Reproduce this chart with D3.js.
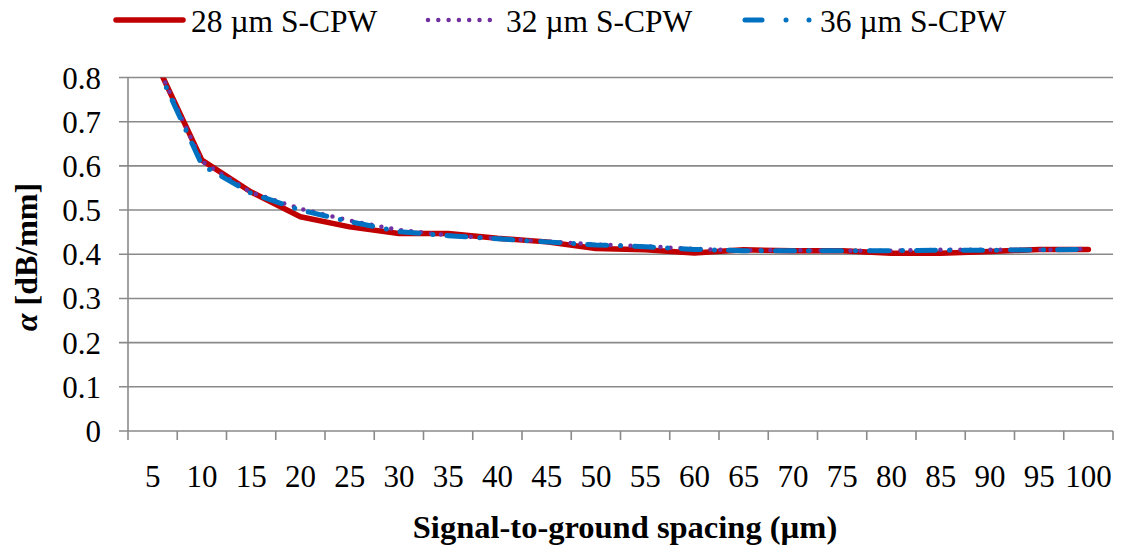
<!DOCTYPE html>
<html>
<head>
<meta charset="utf-8">
<script src="https://cdn.jsdelivr.net/npm/d3@7"></script>
<style>
  html, body { margin: 0; padding: 0; background: #fff; }
  svg { display: block; }
</style>
</head>
<body>
<svg id="chart" width="1121" height="553"></svg>
<script>
// Attenuation vs signal-to-ground spacing for three S-CPW widths
const spacings = ["5","10","15","20","25","30","35","40","45","50","55","60","65","70","75","80","85","90","95","100"];
const cpw28 = [0.850,0.613,0.541,0.485,0.462,0.447,0.447,0.436,0.428,0.413,0.410,0.403,0.410,0.408,0.408,0.402,0.402,0.406,0.411,0.411];
const cpw32 = [0.850,0.610,0.540,0.503,0.476,0.455,0.443,0.436,0.429,0.422,0.418,0.412,0.409,0.409,0.408,0.408,0.410,0.410,0.410,0.412];
const cpw36 = [0.845,0.602,0.538,0.500,0.474,0.451,0.442,0.435,0.428,0.421,0.417,0.411,0.408,0.408,0.408,0.408,0.409,0.409,0.410,0.411];
const yTicks = [0,0.1,0.2,0.3,0.4,0.5,0.6,0.7,0.8];
const seriesNames = ["28 µm S-CPW","32 µm S-CPW","36 µm S-CPW"];

const FONT = "Liberation Serif";
const svg = d3.select("#chart");
const plotL = 128, plotR = 1113, plotT = 77.5, plotB = 431;
const gridColor = "#8a8a8a";

const x = d3.scaleBand().domain(spacings).range([plotL, plotR]).paddingInner(0).paddingOuter(0);
const y = d3.scaleLinear().domain([0, 0.8]).range([plotB, plotT]);
const cx = d => x(d) + x.bandwidth() / 2;

// clip region for the plot area
svg.append("defs").append("clipPath").attr("id", "plotClip")
  .append("rect").attr("x", plotL).attr("y", plotT).attr("width", plotR - plotL).attr("height", plotB - plotT);

// horizontal gridlines with left tick stubs
svg.append("g").selectAll("line").data(yTicks).join("line")
  .attr("x1", plotL - 9).attr("x2", plotR)
  .attr("y1", d => y(d)).attr("y2", d => y(d))
  .attr("stroke", gridColor).attr("stroke-width", 1.6);

// y axis line
svg.append("line").attr("x1", plotL).attr("x2", plotL).attr("y1", plotT).attr("y2", plotB)
  .attr("stroke", gridColor).attr("stroke-width", 1.6);

// x category tick marks at band boundaries
const boundaries = spacings.map(d => x(d)).concat([plotR]);
svg.append("g").selectAll("line").data(boundaries).join("line")
  .attr("x1", d => d).attr("x2", d => d).attr("y1", plotB).attr("y2", plotB + 9)
  .attr("stroke", gridColor).attr("stroke-width", 1.6);

// y tick labels
svg.append("g").selectAll("text").data(yTicks).join("text")
  .attr("font-family", FONT)
  .attr("x", 101).attr("y", d => y(d) + 11)
  .attr("text-anchor", "end").attr("font-size", 31).attr("fill", "#000")
  .text(d => d === 0 ? "0" : d.toFixed(1));

// x tick labels
svg.append("g").selectAll("text").data(spacings).join("text")
  .attr("font-family", FONT)
  .attr("x", d => cx(d)).attr("y", 487)
  .attr("text-anchor", "middle").attr("font-size", 31).attr("fill", "#000")
  .text(d => d);

// axis titles
svg.append("text").attr("font-family", FONT).attr("x", 625).attr("y", 538).attr("text-anchor", "middle")
  .attr("font-size", 32.5).attr("font-weight", "bold").text("Signal-to-ground spacing (µm)");

const yt = svg.append("text").attr("font-family", FONT).attr("transform", "translate(37,257) rotate(-90)")
  .attr("text-anchor", "middle").attr("font-size", 32).attr("font-weight", "bold");
yt.append("tspan").attr("font-style", "italic").text("α");
yt.append("tspan").text(" [dB/mm]");

// series
const line = d3.line().x((d, i) => cx(spacings[i])).y(d => y(d));
const plot = svg.append("g").attr("clip-path", "url(#plotClip)");

plot.append("path").datum(cpw28).attr("d", line)
  .attr("fill", "none").attr("stroke", "#c00000").attr("stroke-width", 5.5)
  .attr("stroke-linejoin", "round").attr("stroke-linecap", "round");

plot.append("path").datum(cpw32).attr("d", line)
  .attr("fill", "none").attr("stroke", "#7030a0").attr("stroke-width", 4.5)
  .attr("stroke-dasharray", "0 10").attr("stroke-linecap", "round");

plot.append("path").datum(cpw36).attr("d", line)
  .attr("fill", "none").attr("stroke", "#0070c0").attr("stroke-width", 5)
  .attr("stroke-dasharray", "19 14 0 14").attr("stroke-linecap", "round");

// legend
const lg = svg.append("g");
lg.append("line").attr("x1", 116).attr("x2", 183).attr("y1", 20).attr("y2", 20)
  .attr("stroke", "#c00000").attr("stroke-width", 5.5).attr("stroke-linecap", "round");
lg.append("text").attr("font-family", FONT).attr("x", 191).attr("y", 31.5).attr("font-size", 31.5).text(seriesNames[0]);

lg.append("line").attr("x1", 428).attr("x2", 491).attr("y1", 20).attr("y2", 20)
  .attr("stroke", "#7030a0").attr("stroke-width", 4.5)
  .attr("stroke-dasharray", "0 10.3").attr("stroke-linecap", "round");
lg.append("text").attr("font-family", FONT).attr("x", 506).attr("y", 31.5).attr("font-size", 31.5).text(seriesNames[1]);

lg.append("line").attr("x1", 745).attr("x2", 812).attr("y1", 20).attr("y2", 20)
  .attr("stroke", "#0070c0").attr("stroke-width", 5)
  .attr("stroke-dasharray", "17 24 0 23 0 100").attr("stroke-linecap", "round");
lg.append("text").attr("font-family", FONT).attr("x", 820).attr("y", 31.5).attr("font-size", 31.5).text(seriesNames[2]);
</script>
</body>
</html>
